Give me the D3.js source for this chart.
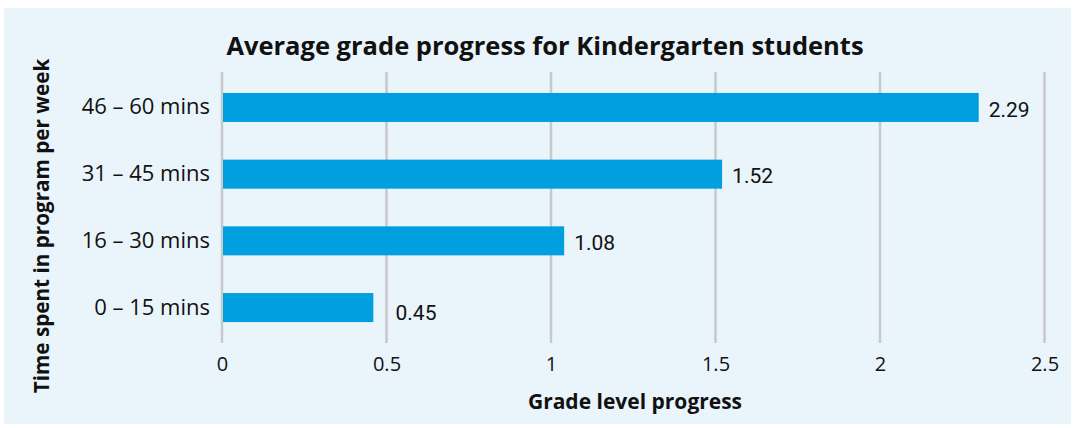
<!DOCTYPE html>
<html>
<head>
<meta charset="utf-8">
<script src="https://cdn.jsdelivr.net/npm/d3@7"></script>
<style>
  body { margin: 0; background: #fff; }
  svg { display: block; font-family: "Open Sans", "Noto Sans", sans-serif; }
</style>
</head>
<body>
<svg id="svg" width="1075" height="428"></svg>
<script>
var categories = ["46 – 60 mins", "31 – 45 mins", "16 – 30 mins", "0 – 15 mins"];
// bar lengths as drawn in the picture, and the labels printed next to them
var values = [2.30, 1.52, 1.04, 0.46];
var valueLabels = ["2.29", "1.52", "1.08", "0.45"];
var ticks = [0, 0.5, 1, 1.5, 2, 2.5];

var svg = d3.select('#svg');

// panel background
svg.append('rect')
    .attr('x', 4).attr('y', 8)
    .attr('width', 1067).attr('height', 416)
    .attr('fill', '#eaf4fb');

var padding = {top: 72, left: 222};
var chartArea = {
    width: 1044.5 - padding.left,
    height: 343 - padding.top
};

var xScale = d3.scaleLinear()
    .domain([0, 2.5])
    .range([0, chartArea.width]);

var yScale = d3.scaleBand()
    .domain(categories)
    .range([0, chartArea.height])
    .paddingInner(0.565)
    .paddingOuter(0.314);

var g = svg.append('g')
    .attr('transform', 'translate(' + padding.left + ',' + padding.top + ')');

// gridlines
g.append('g').selectAll('line').data(ticks).enter()
    .append('line')
    .attr('x1', function(d){ return xScale(d); })
    .attr('x2', function(d){ return xScale(d); })
    .attr('y1', 0)
    .attr('y2', chartArea.height)
    .attr('stroke', '#c8c9cb')
    .attr('stroke-width', 2.5);

// x axis
var xAxis = g.append('g')
    .attr('transform', 'translate(0,' + chartArea.height + ')')
    .call(d3.axisBottom(xScale).tickValues(ticks).tickFormat(d3.format('')).tickSize(0).tickPadding(14))
    .attr('font-family', null);
xAxis.select('.domain').remove();
xAxis.selectAll('text').attr('font-size', 20).attr('fill', '#111');

// y axis
var yAxis = g.append('g')
    .call(d3.axisLeft(yScale).tickSize(0).tickPadding(12))
    .attr('font-family', null);
yAxis.select('.domain').remove();
yAxis.selectAll('text').attr('font-size', 22).attr('fill', '#111');

// bars
var rows = categories.map(function(c, i){ return {cat: c, val: values[i], label: valueLabels[i]}; });
g.selectAll('rect.bar').data(rows).enter()
    .append('rect')
    .attr('class', 'bar')
    .attr('x', 1)
    .attr('y', function(d){ return yScale(d.cat); })
    .attr('width', function(d){ return xScale(d.val) - 1; })
    .attr('height', yScale.bandwidth())
    .attr('fill', '#009fe0');

// value labels; pushed past a gridline if they would sit on it
function labelX(d){
    var x = xScale(d.val) + 10;
    ticks.forEach(function(t){
        var gx = xScale(t);
        if (gx > xScale(d.val) && gx < x + 4) x = gx + 9;
    });
    return x;
}
g.selectAll('text.val').data(rows).enter()
    .append('text')
    .attr('class', 'val')
    .attr('x', labelX)
    .attr('y', function(d){
        var y = yScale(d.cat) + yScale.bandwidth() / 2 + 1.5;
        return labelX(d) > xScale(d.val) + 15 ? y + 3.5 : y;
    })
    .attr('dy', '0.36em')
    .attr('font-size', 21)
    .attr('font-family', 'Roboto, sans-serif')
    .attr('fill', '#111')
    .text(function(d){ return d.label; });

// title
svg.append('text')
    .attr('x', 545).attr('y', 55)
    .attr('text-anchor', 'middle')
    .attr('font-size', 25.5)
    .attr('font-weight', 'bold')
    .attr('fill', '#111')
    .text('Average grade progress for Kindergarten students');

// axis titles
svg.append('text')
    .attr('x', 635)
    .attr('y', 409)
    .attr('text-anchor', 'middle')
    .attr('font-size', 21)
    .attr('font-weight', 'bold')
    .attr('fill', '#111')
    .text('Grade level progress');

svg.append('text')
    .attr('transform', 'translate(49,226) rotate(-90)')
    .attr('text-anchor', 'middle')
    .attr('font-size', 20.7)
    .attr('font-weight', 'bold')
    .attr('fill', '#111')
    .text('Time spent in program per week');
</script>
</body>
</html>
